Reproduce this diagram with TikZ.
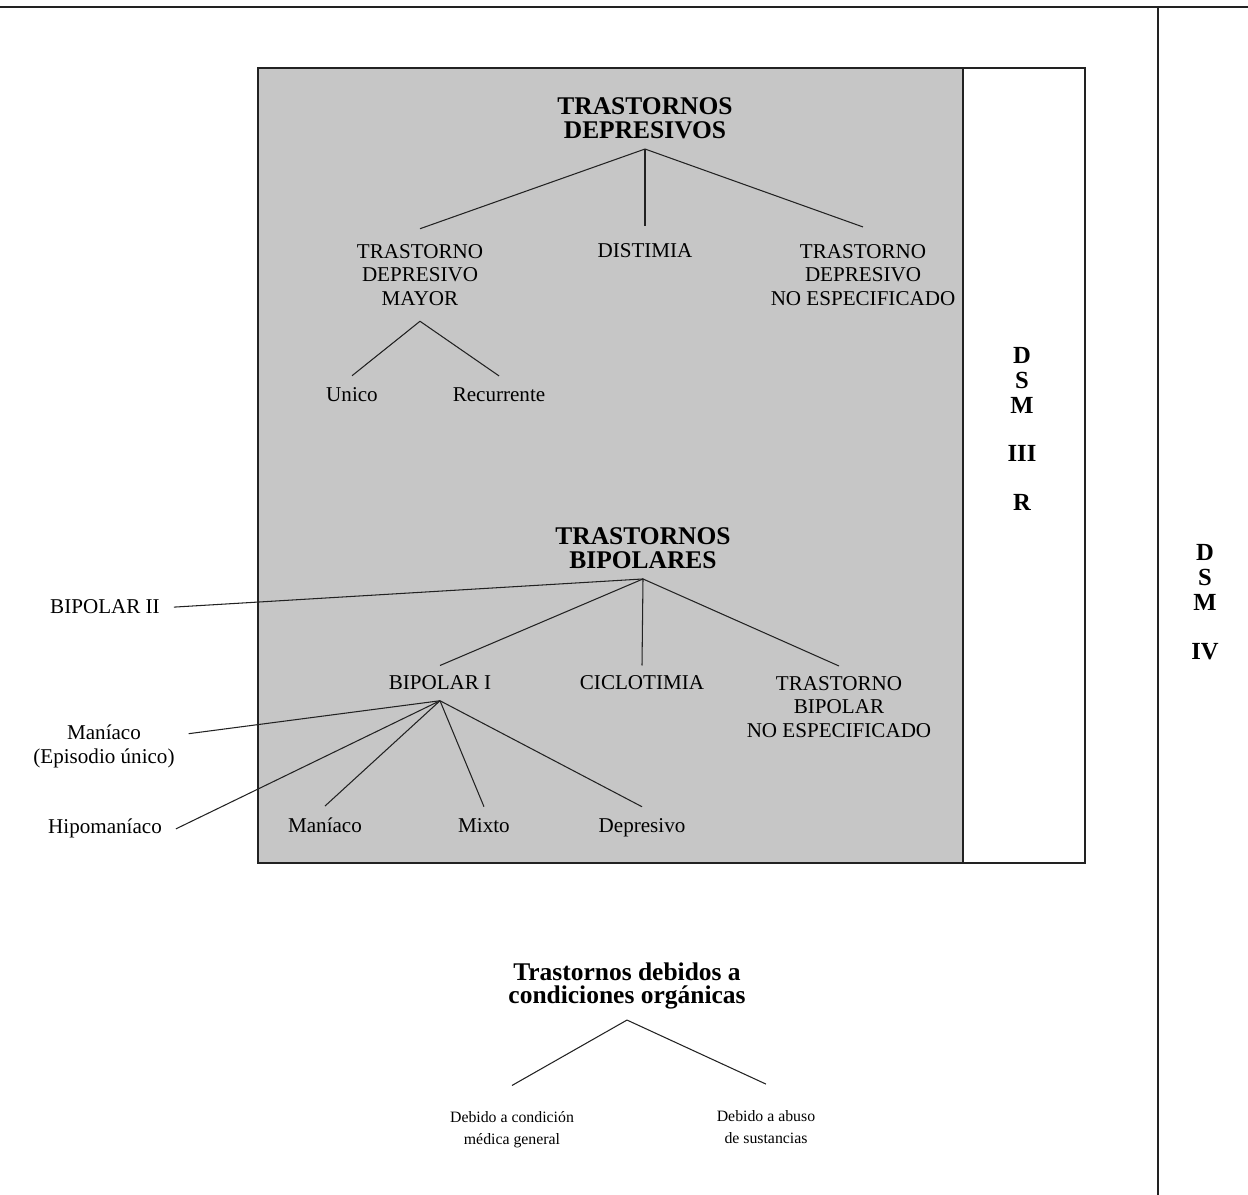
\documentclass[tikz,border=0pt]{standalone}
\usepackage{fontspec}
\setmainfont{Liberation Serif}
\usepackage{tikz}
\usetikzlibrary{positioning}
\definecolor{stipple}{HTML}{C6C6C6}
\definecolor{ink}{HTML}{222222}

\begin{document}
\begin{tikzpicture}[x=0.02cm, y=-0.02cm,
    head/.style={font=\fontsize{14.5}{13.5}\selectfont\bfseries, align=center, inner sep=0pt, outer sep=6pt},
    cls/.style={font=\fontsize{12}{13.3}\selectfont, align=center, inner sep=0pt, outer sep=6pt},
    leaf/.style={font=\fontsize{12}{13.6}\selectfont, align=center, inner sep=0pt, outer sep=7pt},
    subleaf/.style={font=\fontsize{9}{12.5}\selectfont, align=center, inner sep=0pt, outer sep=15pt},
    dsm/.style={font=\fontsize{14}{14.2}\selectfont\bfseries, align=center, inner sep=0pt},
    link/.style={-, draw=ink, line width=0.6pt},
    rule/.style={draw=ink, line width=0.8pt}
]
    \useasboundingbox (0,0) rectangle (1248,1195);

    \fill[stipple] (258,68) rectangle (963,863);
    \draw[rule] (258,68) rectangle (963,863);
    \draw[rule] (963,68) -- (1085,68) -- (1085,863) -- (963,863);
    \draw[rule, line width=1.2pt] (963,68) -- (963,863);
    \draw[rule] (0,7) -- (1248,7);
    \draw[rule] (1158,7) -- (1158,1195);

    \node[head] (dep) at (645,118) {TRASTORNOS\\DEPRESIVOS};
    \node[cls, outer sep=9pt] (mayor) at (420,275) {TRASTORNO\\DEPRESIVO\\MAYOR};
    \node[cls, outer sep=10pt, anchor=base] (distimia) at (645,258) {DISTIMIA};
    \node[cls, outer sep=10pt] (noesp) at (863,275) {TRASTORNO\\DEPRESIVO\\NO ESPECIFICADO};
    \node[leaf, anchor=base] (unico) at (352,402) {Unico};
    \node[leaf, anchor=base] (recur) at (499,402) {Recurrente};

    \node[head] (bip) at (643,548) {TRASTORNOS\\BIPOLARES};
    \node[cls, anchor=base] (bip1) at (440,690) {BIPOLAR I};
    \node[cls, anchor=base] (ciclo) at (642,690) {CICLOTIMIA};
    \node[cls] (nobip) at (839,707) {TRASTORNO\\BIPOLAR\\NO ESPECIFICADO};
    \node[leaf, anchor=base] (man) at (325,833) {Maníaco};
    \node[leaf, anchor=base] (mixto) at (484,833) {Mixto};
    \node[leaf, anchor=base] (depv) at (642,833) {Depresivo};

    \node[leaf, outer sep=8pt, anchor=base] (bip2) at (105,614) {BIPOLAR II};
    \node[leaf, outer sep=8pt] (manep) at (104,746) {Maníaco\\(Episodio único)};
    \node[leaf, outer sep=8pt, anchor=base] (hipo) at (105,834) {Hipomaníaco};

    \node[dsm] (dsm3) at (1022,429) {D\\S\\M\\[13.6pt]III\\[13.6pt]R};
    \node[dsm] (dsm4) at (1205,602) {D\\S\\M\\[13.6pt]IV};

    \node[head] (org) at (627,986) {Trastornos debidos a\\condiciones orgánicas};
    \node[subleaf] (medica) at (512,1130) {Debido a condición\\médica general};
    \node[subleaf] (abuso) at (766,1127) {Debido a abuso\\de sustancias};

    \draw[link] (dep.south) -- (mayor.north);
    \draw[link] (dep.south) -- (distimia.north);
    \draw[link] (dep.south) -- (noesp.north);
    \draw[link] (mayor.south) -- (unico.north);
    \draw[link] (mayor.south) -- (recur.north);

    \draw[link] (bip.south) -- (bip2.east);
    \draw[link] (bip.south) -- (bip1.north);
    \draw[link] (bip.south) -- (ciclo.north);
    \draw[link] (bip.south) -- (nobip.north);
    \draw[link] (bip1.south) -- ([yshift=7pt]manep.east);
    \draw[link] (bip1.south) -- (hipo.east);
    \draw[link] (bip1.south) -- (man.north);
    \draw[link] (bip1.south) -- (mixto.north);
    \draw[link] (bip1.south) -- (depv.north);

    \draw[link] (org.south) -- (medica.north);
    \draw[link] (org.south) -- (abuso.north);
\end{tikzpicture}
\end{document}
